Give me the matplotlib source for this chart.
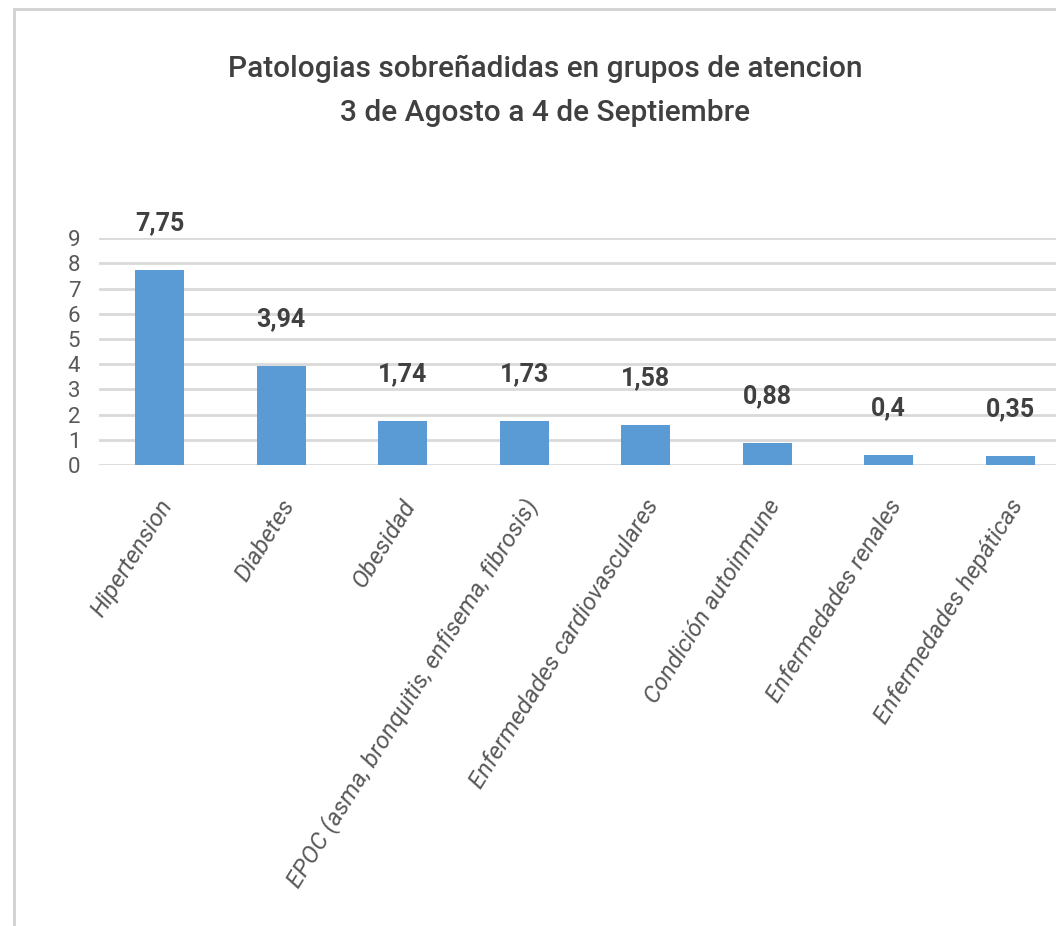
import matplotlib
matplotlib.use("Agg")
import matplotlib.pyplot as plt
from matplotlib.patches import Rectangle
from matplotlib.transforms import ScaledTranslation

# datos del grafico
categorias = [
    "Hipertension",
    "Diabetes",
    "Obesidad",
    "EPOC (asma, bronquitis, enfisema, fibrosis)",
    "Enfermedades cardiovasculares",
    "Condición autoinmune",
    "Enfermedades renales",
    "Enfermedades hepáticas",
]
valores = [7.75, 3.94, 1.74, 1.73, 1.58, 0.88, 0.4, 0.35]
etiquetas = ["7,75", "3,94", "1,74", "1,73", "1,58", "0,88", "0,4", "0,35"]
ticks_y = list(range(0, 10))

plt.rcParams["font.family"] = ["Roboto", "DejaVu Sans"]

fig = plt.figure(figsize=(10.56, 9.26), dpi=100)
ax = fig.add_axes([0.09375, 0.4978, 0.9205, 0.2451])

# marco gris del grafico (recortado a la derecha y abajo)
fig.patches.append(Rectangle((0.013, -0.1), 1.2, 1.09, transform=fig.transFigure,
                             fill=False, edgecolor="#d0d0d0", linewidth=2))

x = range(len(categorias))
ax.bar(x, valores, width=0.4, color="#5b9bd5", zorder=3)

for i, (v, txt) in enumerate(zip(valores, etiquetas)):
    ax.annotate(txt, (i, v), xytext=(0, 25), textcoords="offset points",
                ha="center", va="bottom", fontsize=18, fontweight="bold", color="#404040")

ax.set_xlim(-0.5, len(categorias) - 0.5)
ax.set_ylim(0, 9)
ax.set_yticks(ticks_y)
ax.set_yticklabels([str(t) for t in ticks_y], fontsize=16, color="#595959")
ax.set_xticks(list(x))
ax.set_xticklabels(categorias, rotation=58, ha="right", va="center", rotation_mode="anchor",
                   fontsize=17.5, style="italic", color="#595959")
ax.tick_params(axis="both", length=0)
ax.tick_params(axis="x", pad=26)
ax.tick_params(axis="y", pad=18)
desplazar = ScaledTranslation(8 / 100, 0, fig.dpi_scale_trans)
for lbl in ax.get_xticklabels():
    lbl.set_transform(lbl.get_transform() + desplazar)
for lbl in ax.get_yticklabels():
    lbl.set_horizontalalignment("center")

ax.grid(axis="y", color="#d9d9d9", linewidth=2, zorder=0)
for s in ax.spines.values():
    s.set_visible(False)

fig.text(0.516, 0.941, "Patologias sobreñadidas en grupos de atencion\n3 de Agosto a 4 de Septiembre",
         ha="center", va="top", fontsize=21.5, color="#404040", fontweight="medium", linespacing=1.75)

fig.savefig("out.png", dpi=100)
